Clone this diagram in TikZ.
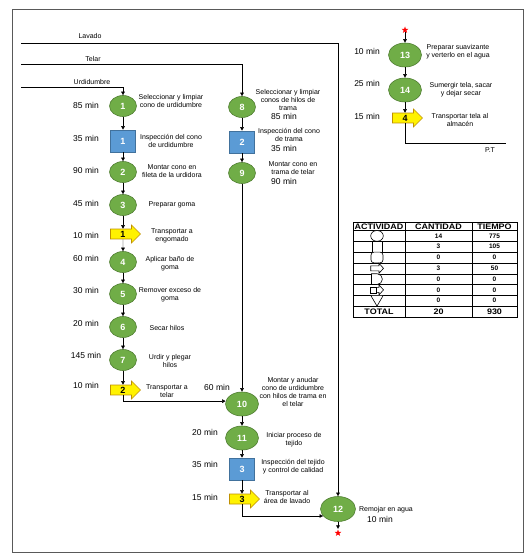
\documentclass[tikz,border=0pt]{standalone}
\usepackage{fontspec}
\setmainfont{Liberation Sans}
\usepackage{xcolor}
\usepackage{tikz}
\usetikzlibrary{shapes,arrows,positioning,calc,arrows.meta}

\definecolor{opgreen}{HTML}{70AD47}
\definecolor{opborder}{HTML}{507E32}
\definecolor{inspblue}{HTML}{5B9BD5}
\definecolor{inspborder}{HTML}{41719C}
\definecolor{transborder}{HTML}{BF9000}
\definecolor{framegray}{HTML}{595959}

\tikzset{
    op/.style={ellipse, fill=opgreen, draw=opborder, line width=0.6pt, minimum width=27pt, minimum height=21pt, inner sep=0pt, text=white, font=\fontsize{9}{10}\selectfont\bfseries},
    bigop/.style={op, minimum width=33pt, minimum height=24pt},
    insp/.style={rectangle, fill=inspblue, draw=inspborder, line width=0.6pt, minimum width=25pt, minimum height=22pt, inner sep=0pt, text=white, font=\fontsize{9}{10}\selectfont\bfseries},
    trans/.style={single arrow, fill=yellow, draw=transborder, line width=0.6pt, minimum height=30pt, minimum width=18pt, single arrow head extend=4pt, inner sep=1.5pt, font=\fontsize{9}{10}\selectfont\bfseries},
    desc/.style={align=center, inner sep=0pt, font=\fontsize{7}{8}\selectfont},
    tiempo/.style={inner sep=0pt, font=\fontsize{8.5}{10}\selectfont},
    etiq/.style={inner sep=0pt, font=\fontsize{7}{8}\selectfont},
    marca/.style={star, star points=5, star point ratio=2.4, fill=red, draw=none, inner sep=0pt, minimum size=7pt},
    celda/.style={inner sep=0pt, font=\fontsize{6.5}{7}\selectfont\bfseries},
    cabeza/.style={inner sep=0pt, font=\fontsize{8}{9}\selectfont\bfseries\addfontfeatures{FakeStretch=1.12}},
    simbolo/.style={draw=black, fill=white, line width=0.6pt},
}

\begin{document}
\begin{tikzpicture}[x=1pt, y=-1pt, >={Triangle[length=3.5pt,width=3.5pt]}]
    \useasboundingbox (0,0) rectangle (529,556);
    \draw[framegray, line width=1pt] (12,10) rectangle (523,552); % Marco

    % Lineas de entrada
    \coordinate (lavado) at (21,43);
    \coordinate (telar) at (21,64);
    \coordinate (urdid) at (21,87);
    \node[etiq] (lblLavado) at (90,36) {Lavado};
    \node[etiq] (lblTelar) at (93,59) {Telar};
    \node[etiq] (lblUrdid) at (92,82) {Urdidumbre};

    % Urdidumbre
    \node[op] (n1) at (123,106) {1};
    \node[insp] (i1) at (123,141) {1};
    \node[op] (n2) at (123,172) {2};
    \node[op] (n3) at (123,205) {3};
    \node[trans] (t1) at (123,234) {1};
    \node[op] (n4) at (123,262) {4};
    \node[op] (n5) at (123,294) {5};
    \node[op] (n6) at (123,327) {6};
    \node[op] (n7) at (123,360) {7};
    \node[trans] (t2) at (123,390) {2};

    \node[tiempo] (m1) at (86,105) {85 min};
    \node[tiempo] (m2) at (86,138) {35 min};
    \node[tiempo] (m3) at (86,170) {90 min};
    \node[tiempo] (m4) at (86,203) {45 min};
    \node[tiempo] (m5) at (86,235) {10 min};
    \node[tiempo] (m6) at (86,258) {60 min};
    \node[tiempo] (m7) at (86,290) {30 min};
    \node[tiempo] (m8) at (86,323) {20 min};
    \node[tiempo] (m9) at (86,355) {145 min};
    \node[tiempo] (m10) at (86,385) {10 min};

    \node[desc] (d1) at (171,101) {Seleccionar y limpiar\\cono de urdidumbre};
    \node[desc] (d2) at (171,140.5) {Inspección del cono\\de urdidumbre};
    \node[desc] (d3) at (172,171.5) {Montar cono en\\fileta de la urdidora};
    \node[desc] (d4) at (172,205) {Preparar goma};
    \node[desc] (d5) at (172,235.5) {Transportar a\\engomado};
    \node[desc] (d6) at (170,263.5) {Aplicar baño de\\goma};
    \node[desc] (d7) at (170,294.5) {Remover exceso de\\goma};
    \node[desc] (d8) at (167,328) {Secar hilos};
    \node[desc] (d9) at (170,361) {Urdir y plegar\\hilos};
    \node[desc] (d10) at (167,391.5) {Transportar a\\telar};

    % Telar
    \node[op] (n8) at (242,107) {8};
    \node[insp] (i2) at (242,142) {2};
    \node[op] (n9) at (242,173) {9};
    \node[bigop] (n10) at (242,404) {10};
    \node[bigop] (n11) at (242,438) {11};
    \node[insp] (i3) at (242,469) {3};
    \node[trans] (t3) at (242,499) {3};

    \node[desc] (e1) at (288,100) {Seleccionar y limpiar\\conos de hilos de\\trama};
    \node[tiempo] (m11) at (284,116) {85 min};
    \node[desc] (e2) at (289,134.5) {Inspección del cono\\de trama};
    \node[tiempo] (m12) at (284,148) {35 min};
    \node[desc] (e3) at (293,168) {Montar cono en\\trama de telar};
    \node[tiempo] (m13) at (284,181) {90 min};
    \node[tiempo] (m14) at (217,387) {60 min};
    \node[desc] (e4) at (293,392) {Montar y anudar\\cono de urdidumbre\\con hilos de trama en\\el telar};
    \node[tiempo] (m15) at (205,432) {20 min};
    \node[desc] (e5) at (294,440) {Iniciar proceso de\\tejido};
    \node[tiempo] (m16) at (205,464) {35 min};
    \node[desc] (e6) at (293,467) {Inspección del tejido\\y control de calidad};
    \node[tiempo] (m17) at (205,497) {15 min};
    \node[desc] (e7) at (287,496.5) {Transportar al\\área de lavado};

    % Lavado
    \node[bigop, minimum width=35pt, minimum height=25pt] (n12) at (338,509) {12};
    \node[marca] (s2) at (338,533) {};
    \node[desc] (e8) at (386,510) {Remojar en agua};
    \node[tiempo] (m18) at (380,519) {10 min};

    \node[marca] (s1) at (405,30) {};
    \node[bigop] (n13) at (405,55) {13};
    \node[bigop] (n14) at (405,90) {14};
    \node[trans] (t4) at (405,118) {4};
    \coordinate (ptend) at (506,143);
    \node[tiempo] (m19) at (367,51) {10 min};
    \node[tiempo] (m20) at (367,83) {25 min};
    \node[tiempo] (m21) at (367,116) {15 min};
    \node[desc] (f1) at (458,52) {Preparar suavizante\\y verterlo en el agua};
    \node[desc] (f2) at (461,90) {Sumergir tela, sacar\\y dejar secar};
    \node[desc] (f3) at (460,120) {Transportar tela al\\almacén};
    \node[etiq] (lblPT) at (490,150) {P.T};

    % Conectores
    \draw[->] (urdid) -| (n1);
    \draw[->] (telar) -| (n8);
    \draw[->] (lavado) -| (n12);
    \draw[->] (n1) -- (i1);
    \draw[->] (i1) -- (n2);
    \draw[->] (n2) -- (n3);
    \draw[->] (n3) -- (t1);
    \draw[->] (t1) -- (n4);
    \draw[->] (n4) -- (n5);
    \draw[->] (n5) -- (n6);
    \draw[->] (n6) -- (n7);
    \draw[->] (n7) -- (t2);
    \draw[->] (t2) |- (n10.170);
    \draw[->] (n8) -- (i2);
    \draw[->] (i2) -- (n9);
    \draw[->] (n9) -- (n10);
    \draw[->] (n10) -- (n11);
    \draw[->] (n11) -- (i3);
    \draw[->] (i3) -- (t3);
    \draw[->] (t3) |- (n12.205);
    \draw[->] (n12) -- (s2);
    \draw[->] (s1) -- (n13);
    \draw[->] (n13) -- (n14);
    \draw[->] (n14) -- (t4);
    \draw (t4) |- (ptend);

    % Tabla resumen
    \draw[line width=0.6pt] (353,222) rectangle (517,317);
    \draw[line width=1pt] (353,230.5) -- (517,230.5);
    \draw[line width=0.4pt] (353,241.3) -- (517,241.3);
    \draw[line width=0.4pt] (353,252.1) -- (517,252.1);
    \draw[line width=0.4pt] (353,262.9) -- (517,262.9);
    \draw[line width=0.4pt] (353,273.7) -- (517,273.7);
    \draw[line width=0.4pt] (353,284.5) -- (517,284.5);
    \draw[line width=0.4pt] (353,295.3) -- (517,295.3);
    \draw[line width=1pt] (353,306.1) -- (517,306.1);
    \draw[line width=0.6pt] (405,222) -- (405,317);
    \draw[line width=0.6pt] (472,222) -- (472,317);

    \draw[simbolo] (377,235.9) ellipse (6.3 and 5.4); % Operacion
    \draw[simbolo] (372,241.3) rectangle (382.5,252.1); % Inspeccion
    \draw[simbolo, rounded corners=3pt] (371,252.1) rectangle (383,262.9);
    \draw[simbolo] (370.7,265.8) -- (379,265.8) -- (379,263.3) -- (383.5,268.3) -- (379,273.3) -- (379,270.8) -- (370.7,270.8) -- cycle; % Transporte
    \draw[simbolo] (371.5,273.7) -- (377,273.7) arc[start angle=-90, end angle=90, radius=5.4] -- (371.5,284.5) -- cycle; % Demora
    \draw[simbolo] (372,287.4) -- (379,287.4) -- (379,284.9) -- (383.5,289.9) -- (379,294.9) -- (379,292.4) -- (372,292.4) -- cycle;
    \draw[simbolo] (370,286.9) rectangle (376,292.9);
    \draw[simbolo] (370.7,295.3) -- (383.3,295.3) -- (377,306.1) -- cycle; % Almacen

    \node[cabeza] (hA) at (379,226.5) {ACTIVIDAD};
    \node[cabeza] (hC) at (438.5,226.5) {CANTIDAD};
    \node[cabeza] (hT) at (494.5,226.5) {TIEMPO};
    \node[celda] (q1) at (438.5,235.9) {14};
    \node[celda] (q2) at (438.5,246.7) {3};
    \node[celda] (q3) at (438.5,257.5) {0};
    \node[celda] (q4) at (438.5,268.3) {3};
    \node[celda] (q5) at (438.5,279.1) {0};
    \node[celda] (q6) at (438.5,289.9) {0};
    \node[celda] (q7) at (438.5,300.7) {0};
    \node[celda] (w1) at (494.5,235.9) {775};
    \node[celda] (w2) at (494.5,246.7) {105};
    \node[celda] (w3) at (494.5,257.5) {0};
    \node[celda] (w4) at (494.5,268.3) {50};
    \node[celda] (w5) at (494.5,279.1) {0};
    \node[celda] (w6) at (494.5,289.9) {0};
    \node[celda] (w7) at (494.5,300.7) {0};
    \node[cabeza] (totL) at (379,311.6) {TOTAL};
    \node[cabeza] (totQ) at (438.5,311.6) {20};
    \node[cabeza] (totW) at (494.5,311.6) {930};
\end{tikzpicture}
\end{document}
